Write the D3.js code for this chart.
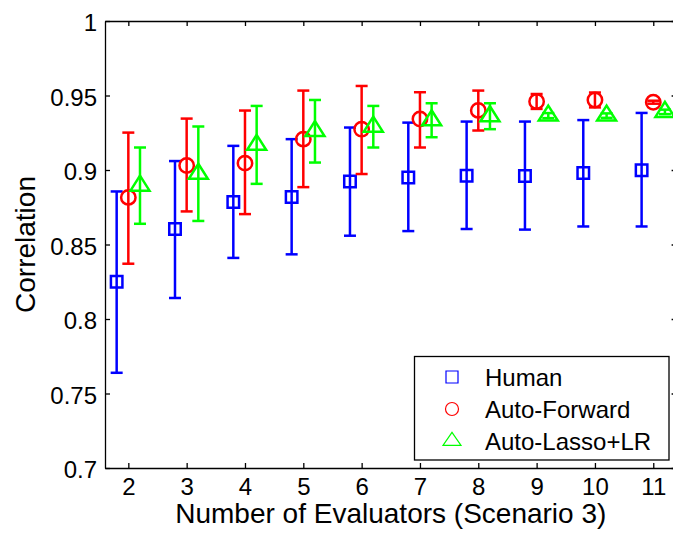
<!DOCTYPE html>
<html>
<head>
<meta charset="utf-8">
<script src="https://cdn.jsdelivr.net/npm/d3@7"></script>
<style>
  body { margin: 0; background: #fff; }
  svg { display: block; font-family: "Liberation Sans", Arial, sans-serif; }
  .axis path, .axis line { stroke: #000; stroke-width: 1.3; }
  .axis text { font-size: 24px; fill: #000; font-family: "Liberation Sans", Arial, sans-serif; }
</style>
</head>
<body>
<div class="chart"></div>
<script>
// x categories and tick labels
const evaluators = [2, 3, 4, 5, 6, 7, 8, 9, 10, 11];
const yTicks = [0.7, 0.75, 0.8, 0.85, 0.9, 0.95, 1];
const yTickLabels = ['0.7', '0.75', '0.8', '0.85', '0.9', '0.95', '1'];

// Human
const humanMean = [0.825, 0.8604, 0.8785, 0.8818, 0.8923, 0.895, 0.8961, 0.896, 0.898, 0.8999];
const humanHigh = [0.8856, 0.906, 0.9162, 0.9207, 0.9285, 0.9318, 0.9325, 0.9325, 0.9335, 0.9383];
const humanLow = [0.7639, 0.8141, 0.841, 0.8434, 0.8559, 0.859, 0.8604, 0.86, 0.8621, 0.8621];

// Auto-Forward
const forwardMean = [0.8816, 0.903, 0.9046, 0.9207, 0.9274, 0.9342, 0.94, 0.946, 0.947, 0.9455];
const forwardHigh = [0.9251, 0.9345, 0.9399, 0.9533, 0.9564, 0.9522, 0.9533, 0.951, 0.952, 0.9465];
const forwardLow = [0.8371, 0.8722, 0.8704, 0.8885, 0.8973, 0.9151, 0.9265, 0.941, 0.942, 0.9445];

// Auto-Lasso+LR
const lassoMean = [0.8895, 0.8975, 0.9169, 0.9261, 0.9291, 0.9334, 0.9361, 0.9365, 0.9365, 0.939];
const lassoHigh = [0.9151, 0.9292, 0.943, 0.947, 0.943, 0.9448, 0.9448, 0.9382, 0.938, 0.9405];
const lassoLow = [0.8639, 0.8658, 0.8907, 0.905, 0.9151, 0.922, 0.9274, 0.9348, 0.935, 0.9375];

const seriesNames = ['Human', 'Auto-Forward', 'Auto-Lasso+LR'];

const svgWidth = 673, svgHeight = 533;

const svg = d3.select(".chart").append("svg")
    .attr("width", svgWidth)
    .attr("height", svgHeight);

const x = d3.scaleLinear().domain([1.6, 11.4]).range([105, 676.6]);
const y = d3.scaleLinear().domain([0.7, 1]).range([468, 21]);

// marker shapes
function squarePath(s) { return `M${-s/2},${-s/2}H${s/2}V${s/2}H${-s/2}Z`; }
function circlePath(r) { return `M${-r},0A${r},${r} 0 1,0 ${r},0A${r},${r} 0 1,0 ${-r},0Z`; }
function trianglePath(w, h) { return `M0,${-2*h/3}L${w/2},${h/3}L${-w/2},${h/3}Z`; }

const series = [
    { name: seriesNames[0], mean: humanMean, high: humanHigh, low: humanLow, color: "#0000ff", shift: -0.2, marker: squarePath(11.5), legend: squarePath(12) },
    { name: seriesNames[1], mean: forwardMean, high: forwardHigh, low: forwardLow, color: "#ff0000", shift: 0, marker: circlePath(7.2), legend: circlePath(6.5) },
    { name: seriesNames[2], mean: lassoMean, high: lassoHigh, low: lassoLow, color: "#00ff00", shift: 0.2, marker: trianglePath(19, 15), legend: trianglePath(18, 13) }
];

// axes (MATLAB style box, inward ticks)
svg.append("g").attr("class", "axis")
    .attr("transform", `translate(0, ${y(0.7)})`)
    .call(d3.axisBottom(x).tickValues(evaluators).tickSize(-5).tickSizeOuter(0).tickPadding(10));
svg.append("g").attr("class", "axis")
    .attr("transform", `translate(0, ${y(1)})`)
    .call(d3.axisTop(x).tickValues(evaluators).tickSize(-5).tickSizeOuter(0).tickFormat(""));
svg.append("g").attr("class", "axis")
    .attr("transform", `translate(${x(1.6)}, 0)`)
    .call(d3.axisLeft(y).tickValues(yTicks).tickSize(-5).tickSizeOuter(0).tickPadding(8)
        .tickFormat((d, i) => yTickLabels[i]))
    .selectAll("text").attr("dy", "0.4em");
svg.append("g").attr("class", "axis")
    .attr("transform", `translate(${x(11.4)}, 0)`)
    .call(d3.axisRight(y).tickValues(yTicks).tickSize(-5).tickSizeOuter(0).tickFormat(""));

// error bars + markers
const cap = 6;
series.forEach(s => {
    const g = svg.append("g")
        .attr("stroke", s.color)
        .attr("stroke-width", 2.5)
        .attr("fill", "none");
    const pts = evaluators.map((e, i) => ({ e: e, m: s.mean[i], hi: s.high[i], lo: s.low[i] }));
    const bars = g.selectAll("g.bar").data(pts).enter().append("g").attr("class", "bar");
    bars.append("line")
        .attr("x1", d => x(d.e + s.shift)).attr("x2", d => x(d.e + s.shift))
        .attr("y1", d => y(d.hi)).attr("y2", d => y(d.lo));
    bars.append("line")
        .attr("x1", d => x(d.e + s.shift) - cap).attr("x2", d => x(d.e + s.shift) + cap)
        .attr("y1", d => y(d.hi)).attr("y2", d => y(d.hi));
    bars.append("line")
        .attr("x1", d => x(d.e + s.shift) - cap).attr("x2", d => x(d.e + s.shift) + cap)
        .attr("y1", d => y(d.lo)).attr("y2", d => y(d.lo));
    bars.append("path")
        .attr("d", s.marker)
        .attr("transform", d => `translate(${x(d.e + s.shift)}, ${y(d.m)})`);
});

// axis titles
svg.append("text")
    .attr("x", (x(1.6) + x(11.4)) / 2)
    .attr("y", 523)
    .attr("text-anchor", "middle")
    .style("font-size", "28px")
    .text("Number of Evaluators (Scenario 3)");
svg.append("text")
    .attr("transform", `translate(35, ${(y(0.7) + y(1)) / 2}) rotate(-90)`)
    .attr("text-anchor", "middle")
    .style("font-size", "28px")
    .text("Correlation");

// legend
const legend = svg.append("g");
legend.append("rect")
    .attr("x", 414.5).attr("y", 356.5)
    .attr("width", 254.5).attr("height", 103.5)
    .attr("fill", "#fff").attr("stroke", "#000").attr("stroke-width", 1.3);
series.forEach((s, i) => {
    const ly = 386 + i * 32;
    legend.append("path")
        .attr("d", s.legend)
        .attr("transform", `translate(452, ${ly - 9})`)
        .attr("fill", "none").attr("stroke", s.color).attr("stroke-width", 1.2);
    legend.append("text")
        .attr("x", 485).attr("y", ly)
        .style("font-size", "24px")
        .text(s.name);
});
</script>
</body>
</html>
